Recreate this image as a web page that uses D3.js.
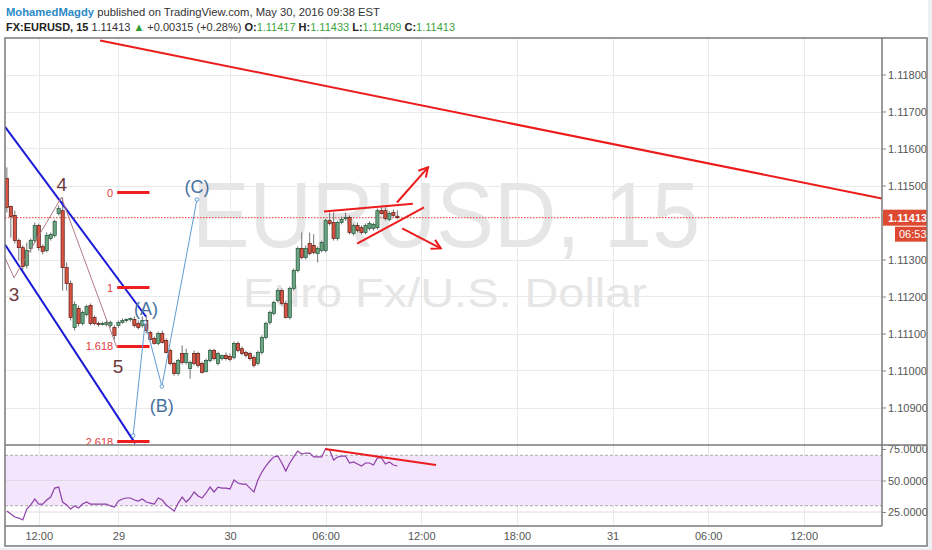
<!DOCTYPE html>
<html lang="en">
  <head>
    <meta charset="UTF-8" />
    <title>EURUSD, 15</title>
    <script src="https://cdn.jsdelivr.net/npm/d3@7"></script>
    <style>
      body {
        padding: 0;
        margin: 0;
        background: #eef1f4;
      }
      svg {
        display: block;
        font-family: "Liberation Sans", Arial, sans-serif;
      }
    </style>
  </head>
  <body>
    <svg id="chart" width="932" height="550"></svg>
    <script>
      // 15 min candles, bar 0 = first visible candle (May 27 ~10:00)
      const opens = [
        1.11519, 1.11443, 1.11419, 1.11351, 1.11332, 1.11284, 1.1133, 1.11351, 1.11392, 1.11335,
        1.11324, 1.11357, 1.11365, 1.11424, 1.11432, 1.11278, 1.11235, 1.11116, 1.11168, 1.11127,
        1.11151, 1.11176, 1.11143, 1.11127, 1.11124, 1.11124, 1.11122, 1.11116, 1.11122, 1.1113,
        1.11135, 1.11138, 1.11138, 1.11127, 1.11122, 1.11135, 1.11103, 1.11087, 1.11073, 1.111,
        1.11081, 1.11054, 1.11019, 1.10992, 1.11046, 1.11022, 1.11005, 1.11046, 1.11046, 1.11019,
        1.10997, 1.11027, 1.11054, 1.11019, 1.11032, 1.11041, 1.11038, 1.11035, 1.11073, 1.11059,
        1.11049, 1.11046, 1.11035, 1.11019, 1.11049, 1.11089, 1.1113, 1.11154, 1.11189, 1.11216,
        1.11181, 1.11143, 1.11222, 1.1127, 1.1133, 1.11305, 1.11343, 1.11338, 1.11316, 1.11324,
        1.11324, 1.11405, 1.114, 1.11357, 1.114, 1.11411, 1.11414, 1.1137, 1.11392, 1.11386,
        1.11373, 1.11384, 1.11384, 1.11386, 1.11432, 1.11432, 1.11408, 1.11427, 1.11417,
      ];
      const highs = [
        1.11549, 1.11446, 1.11432, 1.11357, 1.11338, 1.11346, 1.11357, 1.114, 1.11397, 1.11341,
        1.11373, 1.11373, 1.11408, 1.11446, 1.11468, 1.11292, 1.11243, 1.11187, 1.11176, 1.11162,
        1.11178, 1.11181, 1.11149, 1.11132, 1.11132, 1.11135, 1.11135, 1.11122, 1.11135, 1.11141,
        1.11141, 1.11143, 1.11146, 1.11135, 1.11146, 1.11149, 1.11108, 1.11092, 1.11105, 1.11108,
        1.11087, 1.11059, 1.11024, 1.11032, 1.11068, 1.11059, 1.11027, 1.11054, 1.11051, 1.11024,
        1.11032, 1.11059, 1.11059, 1.11051, 1.11043, 1.11049, 1.11046, 1.11078, 1.11078, 1.11065,
        1.11054, 1.11051, 1.11041, 1.11054, 1.11095, 1.11132, 1.11162, 1.11189, 1.11222, 1.11222,
        1.11189, 1.11227, 1.11276, 1.11335, 1.11373, 1.11338, 1.11373, 1.11368, 1.11335, 1.11351,
        1.11411, 1.11427, 1.11427, 1.11405, 1.11416, 1.11427, 1.11419, 1.11397, 1.114, 1.11392,
        1.11397, 1.11403, 1.114, 1.11438, 1.11441, 1.11441, 1.1143, 1.11435, 1.11433,
      ];
      const lows = [
        1.11427, 1.11359, 1.11343, 1.11297, 1.1127, 1.11276, 1.11319, 1.11346, 1.11324, 1.11314,
        1.11319, 1.11351, 1.11359, 1.11419, 1.11216, 1.11216, 1.11135, 1.11108, 1.11119, 1.11122,
        1.11146, 1.11122, 1.11122, 1.11119, 1.11122, 1.11119, 1.11116, 1.11084, 1.11116, 1.11127,
        1.1113, 1.11132, 1.11116, 1.11111, 1.11116, 1.111, 1.11081, 1.1107, 1.11068, 1.11073,
        1.11046, 1.11014, 1.10986, 1.10986, 1.11016, 1.11016, 1.10978, 1.11014, 1.11008, 1.10992,
        1.10995, 1.11022, 1.11027, 1.11014, 1.11027, 1.11027, 1.11024, 1.1103, 1.11049, 1.11041,
        1.11035, 1.11027, 1.11008, 1.11014, 1.11043, 1.11084, 1.11124, 1.11149, 1.11184, 1.11176,
        1.11141, 1.11138, 1.11216, 1.11265, 1.113, 1.113, 1.11311, 1.11314, 1.11292, 1.11319,
        1.11319, 1.11392, 1.11351, 1.11351, 1.11395, 1.11405, 1.11368, 1.11365, 1.11373, 1.11368,
        1.11368, 1.11378, 1.11378, 1.11381, 1.11422, 1.11405, 1.11403, 1.11414, 1.11409,
      ];
      const closes = [
        1.11441, 1.11416, 1.11351, 1.11332, 1.11281, 1.11324, 1.11351, 1.11392, 1.11332, 1.11322,
        1.11365, 1.11368, 1.11403, 1.11438, 1.11278, 1.11235, 1.11143, 1.11178, 1.11127, 1.11157,
        1.11173, 1.11127, 1.11127, 1.11124, 1.11127, 1.1113, 1.1113, 1.11095, 1.1113, 1.11135,
        1.11138, 1.11141, 1.11122, 1.11116, 1.11135, 1.11108, 1.11084, 1.11073, 1.111, 1.11076,
        1.11049, 1.11019, 1.10992, 1.11027, 1.11022, 1.11046, 1.11022, 1.11019, 1.11014, 1.10995,
        1.11027, 1.11054, 1.11032, 1.11046, 1.11041, 1.11032, 1.1103, 1.11073, 1.11054, 1.11046,
        1.11041, 1.11032, 1.11014, 1.11049, 1.11089, 1.11127, 1.11157, 1.11184, 1.11216, 1.11181,
        1.11143, 1.11222, 1.1127, 1.1133, 1.11305, 1.1133, 1.11316, 1.11319, 1.1133, 1.11346,
        1.11405, 1.11397, 1.11357, 1.114, 1.11408, 1.11414, 1.11373, 1.11392, 1.11378, 1.11373,
        1.11392, 1.11397, 1.11395, 1.11432, 1.11424, 1.11411, 1.11424, 1.11419, 1.11413,
      ];
      const rsiValues = [
        25.8, 23.4, 21.0, 20.2, 18.7, 27.4, 30.6, 35.3, 31.3, 31.3,
        34.5, 36.9, 44.0, 44.8, 32.9, 30.6, 27.4, 29.8, 28.2, 31.3,
        32.9, 31.3, 31.3, 31.3, 31.3, 31.3, 29.8, 29.0, 33.7, 35.3,
        36.1, 36.1, 34.5, 33.7, 35.3, 32.9, 32.1, 31.3, 36.1, 34.5,
        30.6, 28.2, 25.8, 32.1, 36.9, 32.9, 36.1, 40.9, 37.7, 36.1,
        40.1, 44.8, 40.9, 44.8, 44.0, 44.0, 43.3, 50.4, 48.0, 47.2,
        47.2, 44.0, 40.9, 50.4, 56.7, 61.5, 65.5, 68.7, 69.4, 63.9,
        57.5, 63.9, 68.7, 73.4, 71.0, 71.8, 71.8, 68.7, 68.7, 68.7,
        75.0, 74.2, 66.3, 68.7, 69.4, 69.4, 63.9, 64.7, 63.1, 61.5,
        63.9, 63.9, 62.3, 67.9, 67.9, 63.1, 64.7, 62.3, 61.5,
      ];

      const timeTickBars = [8, 28, 56, 80, 104, 128, 152, 176, 200];
      const timeTickLabels = ["12:00", "29", "30", "06:00", "12:00", "18:00", "31", "06:00", "12:00"];
      const priceTicks = [1.118, 1.117, 1.116, 1.115, 1.113, 1.112, 1.111, 1.11, 1.109];
      const rsiTicks = [75, 50, 25];
      const rsiGrid = [50, 25];

      // drawings, points are [bar, price]
      const fibPrices = [1.11481, 1.11224, 1.11065, 1.10808];
      const fibLabels = ["0", "1", "1.618", "2.618"];
      const fibBars = [27.7, 35.8];
      const channelUpper = [[-0.5, 1.11659], [34.9, 1.11146]];
      const channelLower = [[-0.5, 1.11341], [32.2, 1.10803]];
      const wave345 = [[-0.5, 1.11305], [1.8, 1.11251], [13.7, 1.11468], [27.6, 1.11062]];
      const wave345Labels = [["3", 1.8, 1.11208], ["4", 13.8, 1.11505], ["5", 27.9, 1.11011]];
      const waveABC = [[31.7, 1.10824], [34.7, 1.1113], [38.9, 1.10957], [47.7, 1.11462]];
      const waveABCLabels = [["(A)", 34.9, 1.1117], ["(B)", 38.9, 1.10908], ["(C)", 47.7, 1.115]];
      const trendLine = [[23.4, 1.11892], [219.6, 1.11465]];
      const triangleUpper = [[79.6, 1.1143], [101.9, 1.11451]];
      const triangleLower = [[87.9, 1.11343], [104.7, 1.11441]];
      const arrowUp = [[97.9, 1.11454], [105.7, 1.11549]];
      const arrowDown = [[99.2, 1.11384], [108.9, 1.1133]];
      const rsiTrend = [[79.9, 75.0], [107.7, 62.3]];

      const lastPrice = 1.11413;
      const countdown = "06:53";

      // layout
      const L = 5, R = 882, OUTR = 927;
      const PT = 38, PB = 445, RB = 526, AXB = 546;

      const svg = d3.select("#chart");

      const x = d3.scaleLinear().domain([56, 200]).range([230, 803.8]);
      const y = d3.scaleLinear().domain([1.109, 1.118]).range([407.5, 74.5]);
      const yr = d3.scaleLinear().domain([25, 75]).range([512, 449]);

      svg.append("rect").attr("x", 0).attr("y", 0).attr("width", 928).attr("height", 548).attr("fill", "#fff");

      const defs = svg.append("defs");
      defs.append("clipPath").attr("id", "clipPrice")
        .append("rect").attr("x", L).attr("y", PT).attr("width", R - L).attr("height", PB - PT);
      defs.append("clipPath").attr("id", "clipRsi")
        .append("rect").attr("x", L).attr("y", PB).attr("width", R - L).attr("height", RB - PB);
      defs.append("marker")
        .attr("id", "arrow")
        .attr("viewBox", "0 0 12 12")
        .attr("refX", 10).attr("refY", 6)
        .attr("markerWidth", 12).attr("markerHeight", 12)
        .attr("markerUnits", "userSpaceOnUse")
        .attr("orient", "auto")
        .append("path")
        .attr("d", "M1,1 L10,6 L1,11")
        .attr("fill", "none")
        .attr("stroke", "#ec1c1c")
        .attr("stroke-width", 2);

      // header, one text per line so pieces flow
      const line1 = svg.append("text")
        .attr("x", 6).attr("y", 16)
        .attr("font-size", 11.2)
        .attr("textLength", 374)
        .attr("lengthAdjust", "spacingAndGlyphs");
      line1.append("tspan").attr("fill", "#2a8ac6").attr("font-weight", "bold").text("MohamedMagdy");
      line1.append("tspan").attr("fill", "#333").text(" published on TradingView.com, May 30, 2016 09:38 EST");

      const line2 = svg.append("text")
        .attr("x", 6).attr("y", 31)
        .attr("font-size", 11)
        .attr("textLength", 449)
        .attr("lengthAdjust", "spacingAndGlyphs");
      const parts = [
        ["FX:EURUSD, 15", "#222", "bold"],
        [" 1.11413 ", "#333", "normal"],
        ["\u25B2", "#2e9d2e", "normal"],
        [" +0.00315 (+0.28%) ", "#333", "normal"],
        ["O:", "#222", "bold"],
        ["1.11417 ", "#3ca33c", "normal"],
        ["H:", "#222", "bold"],
        ["1.11433 ", "#3ca33c", "normal"],
        ["L:", "#222", "bold"],
        ["1.11409 ", "#3ca33c", "normal"],
        ["C:", "#222", "bold"],
        ["1.11413", "#3ca33c", "normal"],
      ];
      parts.forEach((p) => {
        line2.append("tspan").attr("fill", p[1]).attr("font-weight", p[2]).text(p[0]);
      });

      // grid
      const grid = svg.append("g").attr("stroke", "#e9e9e9").attr("stroke-width", 1);
      grid.selectAll(".hgrid")
        .data(priceTicks)
        .enter()
        .append("line")
        .attr("x1", L).attr("x2", R)
        .attr("y1", (d) => Math.round(y(d)) + 0.5)
        .attr("y2", (d) => Math.round(y(d)) + 0.5);
      grid.selectAll(".vgrid")
        .data(timeTickBars)
        .enter()
        .append("line")
        .attr("x1", (d) => Math.round(x(d)) + 0.5)
        .attr("x2", (d) => Math.round(x(d)) + 0.5)
        .attr("y1", PT).attr("y2", RB);

      // watermark
      svg.append("text")
        .attr("x", 192).attr("y", 247)
        .attr("font-size", 93)
        .attr("fill", "#e6e6e6")
        .attr("textLength", 508)
        .attr("lengthAdjust", "spacingAndGlyphs")
        .text("EURUSD, 15");
      svg.append("text")
        .attr("x", 243).attr("y", 307)
        .attr("font-size", 41)
        .attr("fill", "#e6e6e6")
        .attr("textLength", 404)
        .attr("lengthAdjust", "spacingAndGlyphs")
        .text("Euro Fx/U.S. Dollar");

      const price = svg.append("g").attr("clip-path", "url(#clipPrice)");

      // last price dotted line
      price.append("line")
        .attr("x1", L).attr("x2", R)
        .attr("y1", y(lastPrice)).attr("y2", y(lastPrice))
        .attr("stroke", "#e8372b")
        .attr("stroke-width", 1)
        .attr("stroke-dasharray", "1.5,1.5");

      // candles
      const bars = d3.range(opens.length);
      price.selectAll(".wick")
        .data(bars)
        .enter()
        .append("line")
        .attr("x1", (i) => x(i)).attr("x2", (i) => x(i))
        .attr("y1", (i) => y(highs[i])).attr("y2", (i) => y(lows[i]))
        .attr("stroke", "#737375")
        .attr("stroke-width", 1);
      price.selectAll(".body")
        .data(bars)
        .enter()
        .append("rect")
        .attr("x", (i) => x(i) - 1.6)
        .attr("width", 3.2)
        .attr("y", (i) => y(Math.max(opens[i], closes[i])))
        .attr("height", (i) => Math.max(1, Math.abs(y(opens[i]) - y(closes[i]))))
        .attr("fill", (i) => (closes[i] >= opens[i] ? "#6ba583" : "#d75442"))
        .attr("stroke", (i) => (closes[i] >= opens[i] ? "#225437" : "#5b1a13"))
        .attr("stroke-width", 0.7);

      const line = d3.line().x((d) => x(d[0])).y((d) => y(d[1]));

      // big trend line
      price.append("path").attr("d", line(trendLine))
        .attr("fill", "none").attr("stroke", "#ec1c1c").attr("stroke-width", 2);

      // blue channel
      [channelUpper, channelLower].forEach((seg) => {
        price.append("path").attr("d", line(seg))
          .attr("fill", "none").attr("stroke", "#1b1bd6").attr("stroke-width", 2);
      });

      // fib levels
      fibPrices.forEach((p, k) => {
        price.append("line")
          .attr("x1", x(fibBars[0])).attr("x2", x(fibBars[1]))
          .attr("y1", y(p)).attr("y2", y(p))
          .attr("stroke", "#ef1d1d").attr("stroke-width", 3);
        price.append("text")
          .attr("x", x(fibBars[0]) - 4).attr("y", y(p) + 4)
          .attr("text-anchor", "end")
          .attr("font-size", 11)
          .attr("fill", "#e23b3b")
          .text(fibLabels[k]);
      });

      // wave 3-4-5
      price.append("path").attr("d", line(wave345))
        .attr("fill", "none").attr("stroke", "#b07a82").attr("stroke-width", 1);
      wave345Labels.forEach((d) => {
        price.append("text")
          .attr("x", x(d[1])).attr("y", y(d[2]) + 7)
          .attr("text-anchor", "middle")
          .attr("font-size", 19)
          .attr("fill", "#6e3a40")
          .text(d[0]);
      });

      // wave A-B-C
      price.append("path").attr("d", line(waveABC))
        .attr("fill", "none").attr("stroke", "#5f9bd2").attr("stroke-width", 1);
      price.selectAll(".abcpt")
        .data(waveABC)
        .enter()
        .append("circle")
        .attr("cx", (d) => x(d[0])).attr("cy", (d) => y(d[1]))
        .attr("r", 1.8)
        .attr("fill", "#fff").attr("stroke", "#5f9bd2").attr("stroke-width", 1);
      waveABCLabels.forEach((d) => {
        price.append("text")
          .attr("x", x(d[1])).attr("y", y(d[2]) + 7)
          .attr("text-anchor", "middle")
          .attr("font-size", 18)
          .attr("fill", "#47729f")
          .text(d[0]);
      });

      // triangle + breakout arrows
      [triangleUpper, triangleLower].forEach((seg) => {
        price.append("path").attr("d", line(seg))
          .attr("fill", "none").attr("stroke", "#ec1c1c").attr("stroke-width", 2);
      });
      [arrowUp, arrowDown].forEach((seg) => {
        price.append("path").attr("d", line(seg))
          .attr("fill", "none").attr("stroke", "#ec1c1c").attr("stroke-width", 2)
          .attr("marker-end", "url(#arrow)");
      });

      // RSI pane
      const rsiG = svg.append("g").attr("clip-path", "url(#clipRsi)");
      rsiG.append("rect")
        .attr("x", L).attr("width", R - L)
        .attr("y", yr(70)).attr("height", yr(30) - yr(70))
        .attr("fill", "#f3e5fb");
      rsiG.selectAll(".rgrid")
        .data(rsiGrid)
        .enter()
        .append("line")
        .attr("x1", L).attr("x2", R)
        .attr("y1", (d) => yr(d)).attr("y2", (d) => yr(d))
        .attr("stroke", "#e2dbe6").attr("stroke-width", 1);
      rsiG.selectAll(".band")
        .data([70, 30])
        .enter()
        .append("line")
        .attr("x1", L).attr("x2", R)
        .attr("y1", (d) => yr(d)).attr("y2", (d) => yr(d))
        .attr("stroke", "#a9a9a9").attr("stroke-width", 1)
        .attr("stroke-dasharray", "3,2");
      rsiG.append("path")
        .attr("d", d3.line().x((d, i) => x(i)).y((d) => yr(d))(rsiValues))
        .attr("fill", "none").attr("stroke", "#8e3fa8").attr("stroke-width", 1.2);
      rsiG.append("path")
        .attr("d", d3.line().x((d) => x(d[0])).y((d) => yr(d[1]))(rsiTrend))
        .attr("fill", "none").attr("stroke", "#ec1c1c").attr("stroke-width", 2);

      // axes
      const priceAxis = svg.append("g")
        .attr("transform", `translate(${R},0)`)
        .call(d3.axisRight(y).tickValues(priceTicks).tickFormat(d3.format(".5f")).tickSize(4).tickPadding(2));
      const rsiAxis = svg.append("g")
        .attr("transform", `translate(${R},0)`)
        .call(d3.axisRight(yr).tickValues(rsiTicks).tickFormat(d3.format(".4f")).tickSize(4).tickPadding(2));
      const timeAxis = svg.append("g")
        .attr("transform", `translate(0,${RB})`)
        .call(d3.axisBottom(x).tickValues(timeTickBars).tickFormat((d, i) => timeTickLabels[i]).tickSize(0).tickPadding(6));
      [priceAxis, rsiAxis, timeAxis].forEach((a) => {
        a.select(".domain").remove();
        a.selectAll("line").attr("stroke", "#8a8a8a");
        a.selectAll("text")
          .attr("fill", "#555")
          .attr("font-size", 11)
          .attr("font-family", "'Liberation Sans', Arial, sans-serif");
      });

      // last price badge + countdown
      svg.append("rect")
        .attr("x", R + 1).attr("y", y(lastPrice) - 8)
        .attr("width", OUTR - R - 1).attr("height", 16)
        .attr("fill", "#dd4a31");
      svg.append("text")
        .attr("x", R + 6).attr("y", y(lastPrice) + 4)
        .attr("font-size", 11).attr("font-weight", "bold")
        .attr("fill", "#fff")
        .text(d3.format(".5f")(lastPrice));
      svg.append("rect")
        .attr("x", 895).attr("y", y(lastPrice) + 9)
        .attr("width", OUTR - 895).attr("height", 15)
        .attr("fill", "#dd4a31");
      svg.append("text")
        .attr("x", 899).attr("y", y(lastPrice) + 20)
        .attr("font-size", 11)
        .attr("fill", "#fff")
        .text(countdown);

      // frame
      const frame = svg.append("g").attr("stroke", "#7a7a7a").attr("stroke-width", 1.5).attr("fill", "none");
      frame.append("rect").attr("x", L).attr("y", PT).attr("width", OUTR - L).attr("height", AXB - PT);
      frame.append("line").attr("x1", R).attr("x2", R).attr("y1", PT).attr("y2", RB);
      frame.append("line").attr("x1", L).attr("x2", OUTR).attr("y1", PB).attr("y2", PB);
      frame.append("line").attr("x1", L).attr("x2", R).attr("y1", RB).attr("y2", RB);
    </script>
  </body>
</html>
